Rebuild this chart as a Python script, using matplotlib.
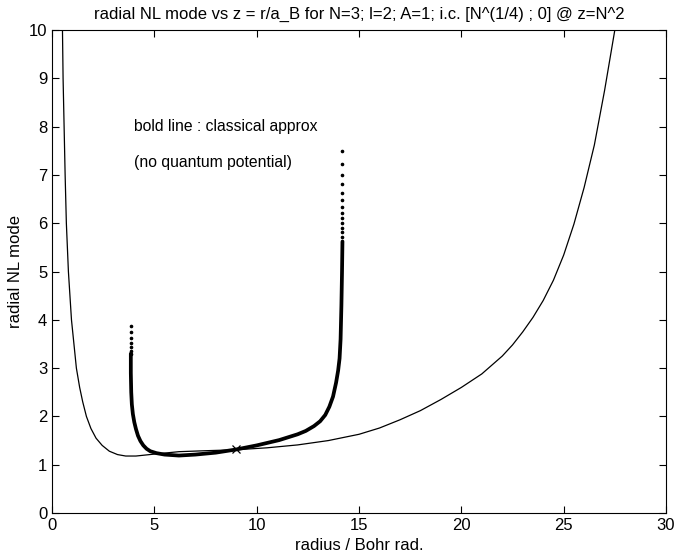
import matplotlib.pyplot as plt

# thin curve
thin_x = [0.51, 0.54, 0.59, 0.64, 0.70, 0.80, 0.95, 1.19, 1.35, 1.5, 1.68, 1.9,
          2.15, 2.45, 2.8, 3.2, 3.6, 4.1, 5.0, 6.2, 7.5, 9.0, 10.5, 12.0, 13.5,
          15.0, 16.0, 17.0, 18.0, 19.0, 20.0, 21.0, 22.0, 22.5, 23.0, 23.5,
          24.0, 24.5, 25.0, 25.5, 26.0, 26.5, 27.0, 27.5]
thin_y = [10, 9, 8, 7, 6, 5, 4, 3, 2.6, 2.3, 2.0, 1.75,
          1.55, 1.4, 1.28, 1.21, 1.18, 1.18, 1.22, 1.27, 1.29, 1.31, 1.35, 1.41, 1.5,
          1.63, 1.76, 1.93, 2.12, 2.35, 2.6, 2.88, 3.25, 3.48, 3.75, 4.05,
          4.4, 4.82, 5.34, 5.98, 6.74, 7.62, 8.75, 10.0]

# bold curve (classical approx), body
bold_x = [3.85, 3.85, 3.87, 3.9, 3.95, 4.02, 4.1, 4.2, 4.32, 4.46, 4.62, 4.8,
          5.1, 5.5, 6.2, 7.0, 8.0, 9.0, 10.0, 11.1, 12.0, 12.4, 12.8, 13.1,
          13.35, 13.55, 13.73, 13.88, 13.98, 14.05, 14.1, 14.14, 14.17, 14.19]
bold_y = [3.3, 2.9, 2.5, 2.25, 2.05, 1.88, 1.74, 1.6, 1.49, 1.40, 1.33, 1.28,
          1.24, 1.21, 1.19, 1.21, 1.25, 1.316, 1.40, 1.51, 1.63, 1.70, 1.80, 1.90,
          2.03, 2.2, 2.41, 2.7, 2.95, 3.2, 3.6, 4.3, 5.0, 5.6]

# separated dots at both ends of the bold curve
left_dots_x = 3.85
left_dots_y = [3.87, 3.74, 3.62, 3.51, 3.43, 3.35, 3.29]
right_dots_x = 14.19
right_dots_y = [7.50, 7.23, 7.00, 6.81, 6.63, 6.48, 6.34, 6.22, 6.10, 6.00,
                5.90, 5.81, 5.72, 5.64]

# initial condition z = N^2, N^(1/4)
ic_x = 9.0
ic_y = 3 ** 0.25

plt.rcParams['font.family'] = ['Liberation Sans', 'DejaVu Sans']

fig = plt.figure(figsize=(6.91, 5.58), dpi=100)
ax = fig.add_axes([0.0753, 0.0806, 0.8885, 0.8656])

ax.plot(thin_x, thin_y, color='black', lw=0.9)
ax.plot(bold_x, bold_y, color='black', lw=2.7, solid_capstyle='round',
        solid_joinstyle='round')
ax.plot([left_dots_x] * len(left_dots_y), left_dots_y, '.', color='black', ms=3.2)
ax.plot([right_dots_x] * len(right_dots_y), right_dots_y, '.', color='black', ms=3.2)
ax.plot(ic_x, ic_y, 'x', color='black', ms=6, mew=0.9)

ax.text(4, 8, 'bold line : classical approx', fontsize=11.3, va='center')
ax.text(4, 7.25, '(no quantum potential)', fontsize=11.3, va='center')

ax.set_xlim(0, 30)
ax.set_ylim(0, 10)
ax.set_xticks(range(0, 31, 5))
ax.set_yticks(range(0, 11))
ax.tick_params(direction='in', top=True, right=True, length=5, labelsize=12)
ax.set_xlabel('radius / Bohr rad.', fontsize=12)
ax.set_ylabel('radial NL mode', fontsize=12)
ax.set_title('radial NL mode vs z = r/a_B for N=3; l=2; A=1; i.c. [N^(1/4) ; 0] @ z=N^2',
             fontsize=12, pad=8)

fig.savefig('out.png', dpi=100)
